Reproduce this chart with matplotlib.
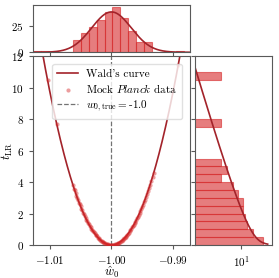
import numpy as np
import matplotlib
matplotlib.use("Agg")
import matplotlib.pyplot as plt
from matplotlib.ticker import NullLocator

plt.rcParams['font.family'] = 'serif'
plt.rcParams['font.serif'] = ['cmr10', 'DejaVu Serif']
plt.rcParams['mathtext.fontset'] = 'cm'
plt.rcParams['axes.formatter.use_mathtext'] = True
plt.rcParams['font.size'] = 8
plt.rcParams['axes.edgecolor'] = '0.35'
plt.rcParams['xtick.color'] = '0.35'
plt.rcParams['ytick.color'] = '0.35'
plt.rcParams['xtick.labelcolor'] = 'black'
plt.rcParams['ytick.labelcolor'] = 'black'
plt.rcParams['xtick.major.size'] = 3
plt.rcParams['ytick.major.size'] = 3

# --- values ---
w_true = -1.0
sigma_w = 0.003216          # width of Wald's parabola / gaussian
n_mock = 240

# mock Planck data: w0 estimates and their t_LR
w_hat = [-1.0104, -1.0089, -1.00625, -1.0061, -1.00595, -1.0058, -1.0057, -1.00555,
         -1.0054, -1.0053, -1.00515, -1.0050, -1.0049, -1.00475, -1.0046, -1.0045,
         -1.00435, -1.0042, -1.0041, -1.00395, -1.0038, -1.0037, -1.00355, -1.0034,
         -1.0033, -1.00315, -1.0030, -1.0029, -1.00275, -1.0026, -1.0025, -1.00235,
         -1.0022, -1.0021, -1.00195, -1.0018, -1.0017, -1.00155, -1.0014, -1.0013,
         -1.00115, -1.0010, -1.0009, -1.00075, -1.0006, -1.0005, -1.00035, -1.0002,
         -1.0001, -0.99995, -0.99985, -0.9997, -0.99955, -0.9994, -0.9993, -0.99915,
         -0.9990, -0.9989, -0.99875, -0.9986, -0.9985, -0.99835, -0.9982, -0.9981,
         -0.99795, -0.9978, -0.9977, -0.99755, -0.9974, -0.9973, -0.99715, -0.9970,
         -0.9969, -0.99675, -0.9966, -0.9965, -0.99635, -0.9962, -0.9961, -0.99595,
         -0.9958, -0.9957, -0.99555, -0.9954, -0.9953, -0.99515, -0.9950, -0.99485,
         -0.9947, -0.99455, -0.9944, -0.9942, -0.99405, -0.9939, -0.9937, -0.9935,
         -0.9933, -0.9931, -0.9891]
t_lr = [10.48, 7.72, 3.82, 3.58, 3.47, 3.30, 3.12, 2.96, 2.86, 2.68, 2.60, 2.45, 2.28,
        2.21, 2.02, 1.99, 1.83, 1.72, 1.60, 1.53, 1.37, 1.34, 1.21, 1.12, 1.04, 0.96,
        0.88, 0.80, 0.74, 0.66, 0.60, 0.54, 0.47, 0.42, 0.37, 0.32, 0.28, 0.23, 0.19,
        0.16, 0.13, 0.10, 0.08, 0.055, 0.035, 0.024, 0.012, 0.004, 0.001, 0.0,
        0.002, 0.009, 0.02, 0.035, 0.047, 0.07, 0.097, 0.12, 0.15, 0.19, 0.22, 0.26,
        0.31, 0.35, 0.41, 0.47, 0.51, 0.58, 0.65, 0.71, 0.79, 0.87, 0.93, 1.02, 1.12,
        1.18, 1.29, 1.40, 1.47, 1.59, 1.71, 1.79, 1.91, 2.05, 2.14, 2.27, 2.42, 2.56,
        2.72, 2.87, 3.03, 3.25, 3.42, 3.60, 3.84, 4.08, 4.34, 4.60, 11.45]

# top histogram of w0 estimates
w_bin_edges = [-1.01274, -1.01145, -1.01016, -1.00887, -1.00758, -1.00629, -1.00500,
               -1.00371, -1.00242, -1.00113, -0.99984, -0.99855, -0.99726, -0.99597,
               -0.99468, -0.99339, -0.99210, -0.99081, -0.98952, -0.98823]
w_counts = [1, 1, 0, 0, 0, 12, 18, 24, 31, 38, 43, 33, 20, 10, 10, 0, 0, 0, 1]

# right histogram of t_LR (log counts)
t_bin_edges = [0.0, 0.5, 1.0, 1.5, 2.0, 2.5, 3.0, 3.5, 4.0, 4.5, 5.0, 5.5, 6.0, 6.5,
               7.0, 7.5, 8.0, 8.5, 9.0, 9.5, 10.0, 10.5, 11.0]
t_counts = [122, 37, 19, 16, 13, 12, 7, 4, 1, 2, 1, 0, 0, 0, 0, 1, 0, 0, 0, 0, 0, 1]

x_ticks = [-1.01, -1.00, -0.99]
x_ticklabels = ['$-1.01$', '$-1.00$', '$-0.99$']
t_ticks = [0, 2, 4, 6, 8, 10, 12]
top_ticks = [0, 25]

red = 'tab:red'
dark = '#a3232a'

fig = plt.figure(figsize=(2.79, 2.78), dpi=100)
ax = fig.add_axes([0.118, 0.119, 0.563, 0.678])
ax_top = fig.add_axes([0.118, 0.812, 0.563, 0.170], sharex=ax)
ax_r = fig.add_axes([0.699, 0.119, 0.277, 0.678], sharey=ax)

# main panel
w_grid = np.linspace(-1.0128, -0.9872, 400)
ax.plot(w_grid, ((w_grid - w_true) / sigma_w) ** 2, color=dark, lw=1.2,
        label="Wald's curve")
ax.scatter(w_hat, t_lr, s=9, color=red, alpha=0.45, lw=0,
           label=r'Mock $\mathit{Planck}$ data', zorder=3)
ax.axvline(w_true, color='0.45', ls='--', lw=0.9,
           label=r'$w_{0,\rm true}=$' + '-1.0')
ax.set_xlim(-1.0128, -0.9872)
ax.set_ylim(0, 12)
ax.set_xticks(x_ticks, labels=x_ticklabels)
ax.set_yticks(t_ticks)
ax.set_xlabel(r'$\hat{w}_0$', fontsize=9)
ax.set_ylabel(r'$t_{\rm LR}$', fontsize=9)
ax.xaxis.set_label_coords(0.5, -0.1)
ax.yaxis.set_label_coords(-0.112, 0.5)
ax.legend(loc='upper right', fontsize=8, framealpha=0.8, edgecolor='0.85',
          handlelength=1.9, labelspacing=0.3, borderpad=0.45, handletextpad=0.7,
          borderaxespad=0.7)

# top histogram
lefts = w_bin_edges[:-1]
widths = np.diff(w_bin_edges)
ax_top.bar(lefts, w_counts, width=widths, align='edge', color=red, alpha=0.6,
           edgecolor=red, lw=0.8)
ax_top.plot(w_grid, n_mock * widths[0] / (sigma_w * np.sqrt(2 * np.pi))
            * np.exp(-0.5 * ((w_grid - w_true) / sigma_w) ** 2), color=dark, lw=1.2)
ax_top.set_ylim(0, 45)
ax_top.set_yticks(top_ticks)
ax_top.tick_params(labelbottom=False)

# right histogram
t_heights = np.diff(t_bin_edges)
ax_r.barh(t_bin_edges[:-1], t_counts, height=t_heights, align='edge', color=red,
          alpha=0.6, edgecolor=red, lw=0.8)
t_grid = np.linspace(0.05, 12, 400)
ax_r.plot(n_mock * 0.5 * np.exp(-t_grid / 2) / np.sqrt(2 * np.pi * t_grid), t_grid,
          color=dark, lw=1.2)
ax_r.set_xscale('log')
ax_r.set_xlim(0.05, 355)
ax_r.set_xticks([10])
ax_r.xaxis.set_minor_locator(NullLocator())
ax_r.tick_params(labelleft=False)

fig.savefig('out.png', dpi=100)
